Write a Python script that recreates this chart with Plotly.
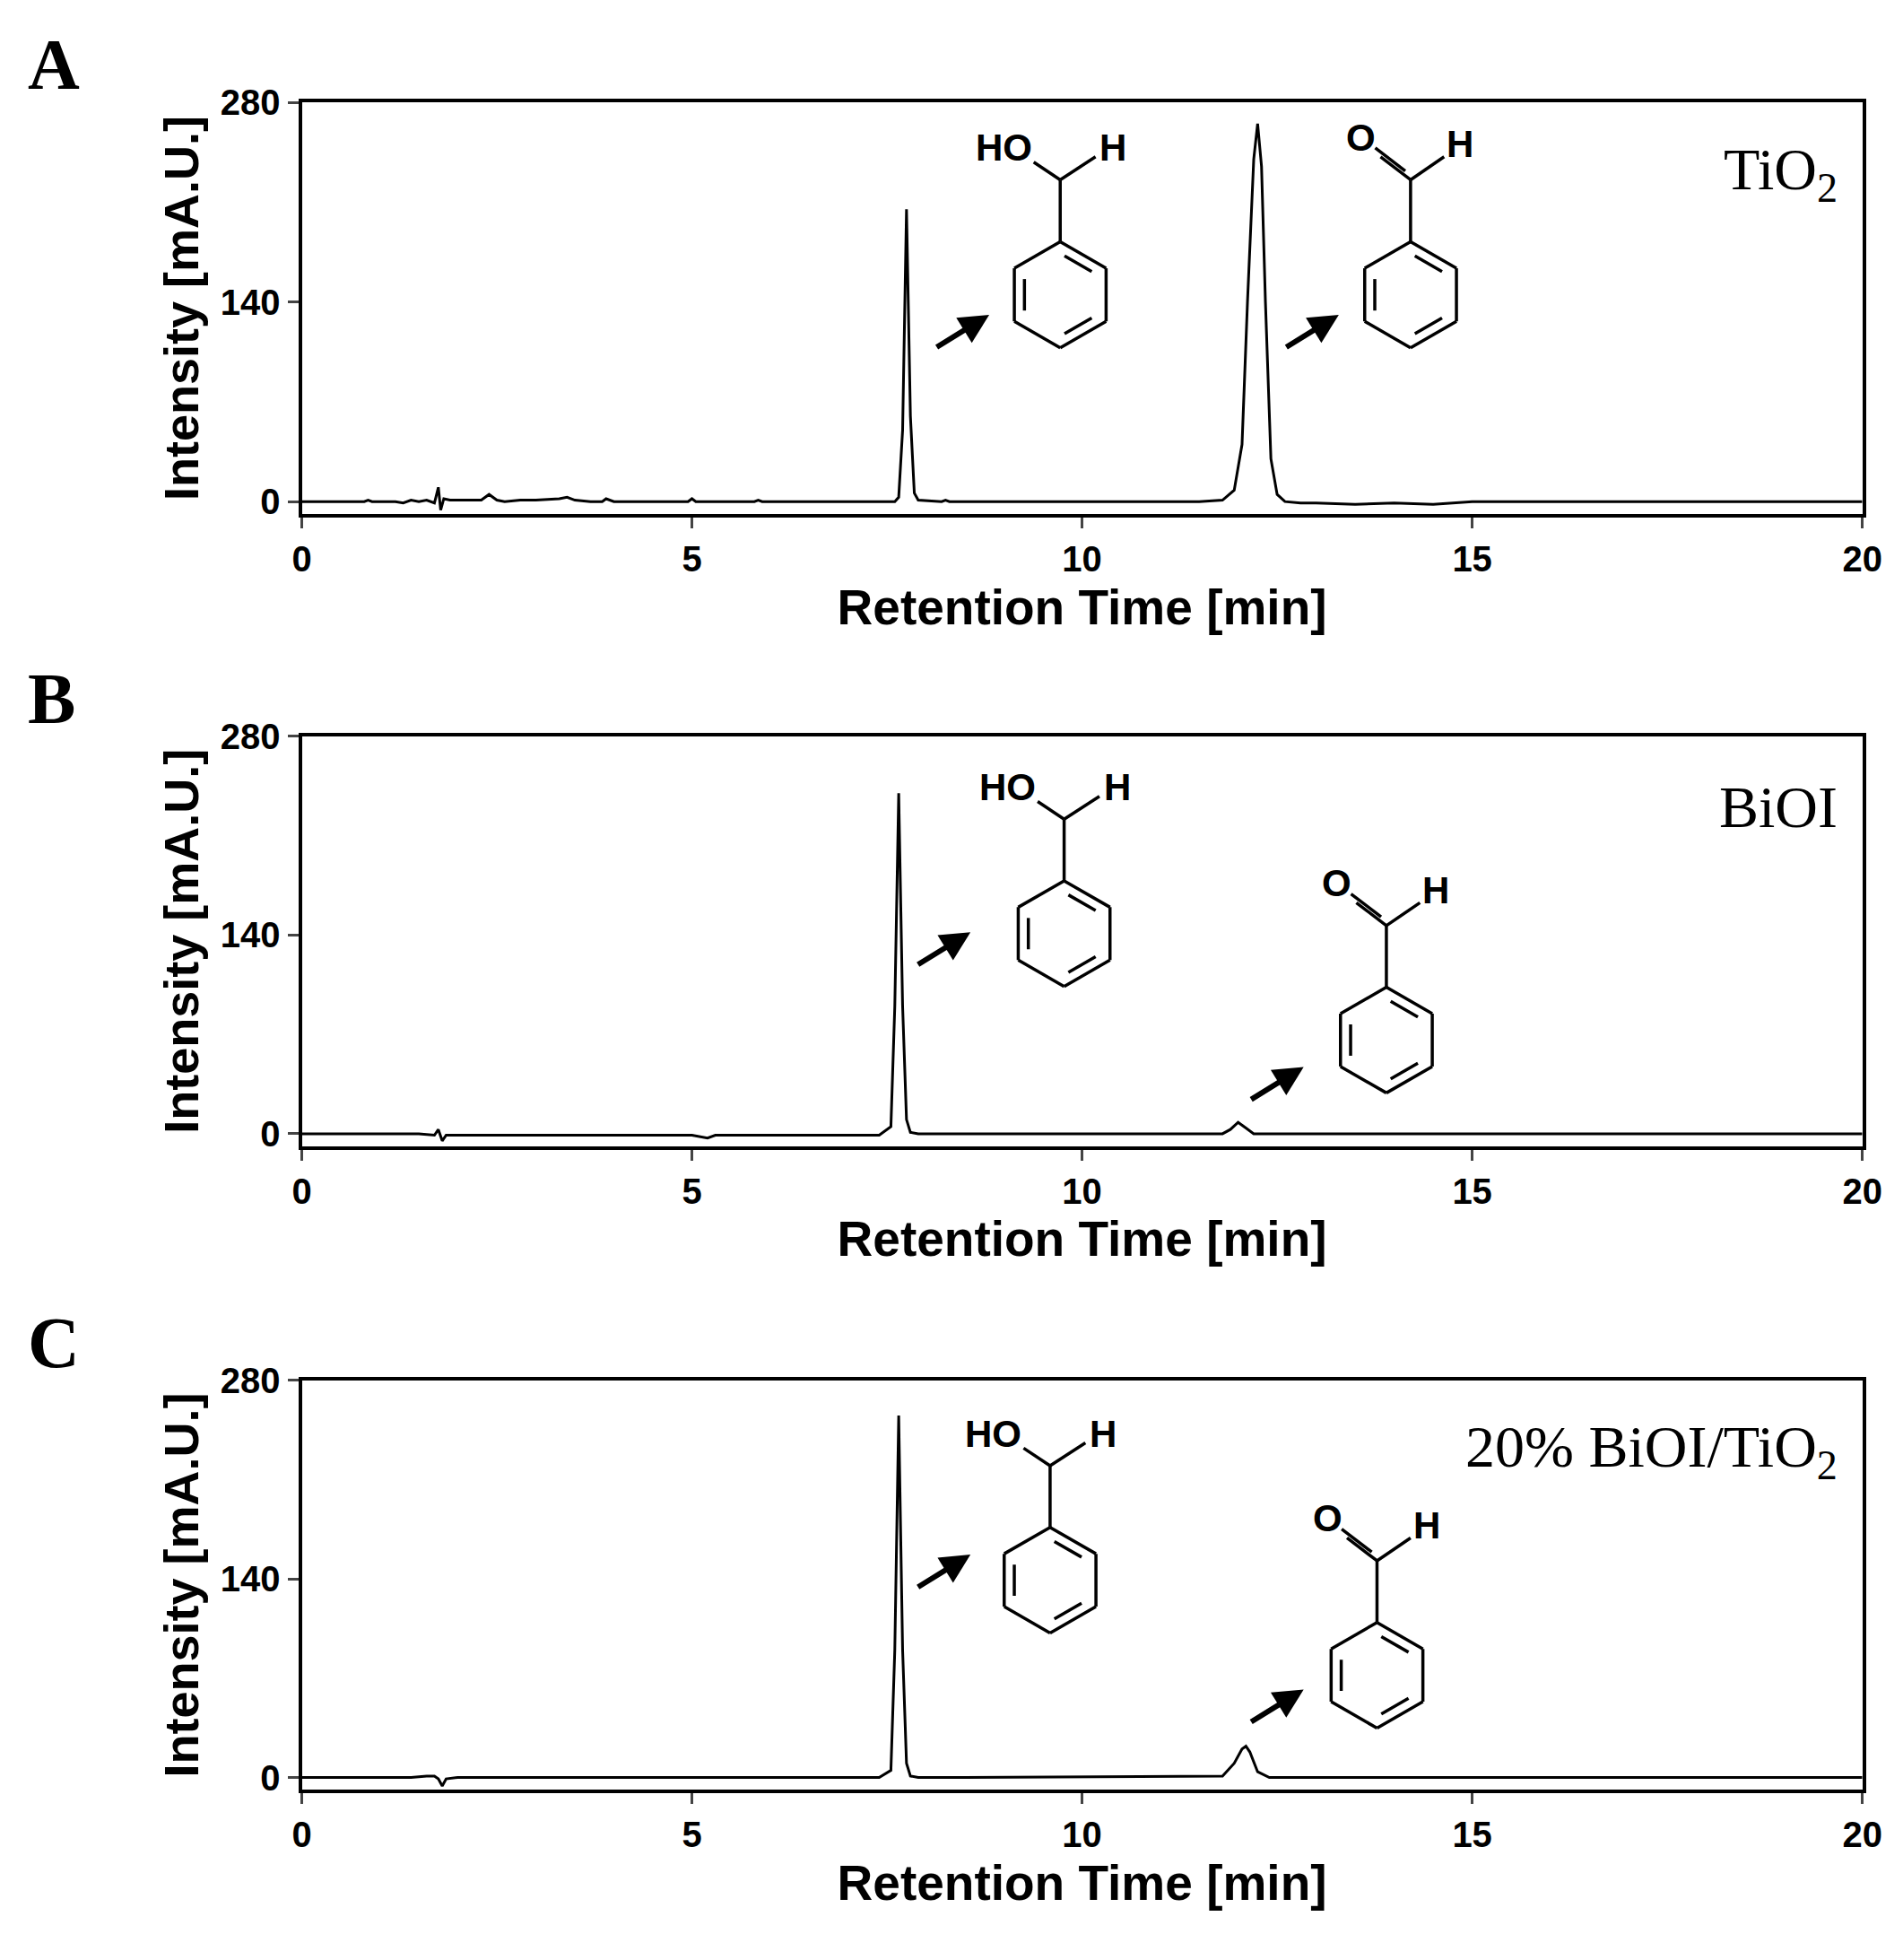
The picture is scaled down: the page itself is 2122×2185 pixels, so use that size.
import math
import plotly.graph_objects as go

# chromatogram traces (retention time in min, intensity in mA.U.)
time_a = [0, 0.8, 0.85, 0.9, 1.2, 1.3, 1.4, 1.5, 1.6, 1.7, 1.75, 1.78, 1.82, 1.9, 2.0, 2.3, 2.4, 2.5, 2.6, 2.8,
          3.0, 3.3, 3.4, 3.5, 3.7, 3.85, 3.9, 4.0, 4.5, 4.95, 5.0, 5.05, 5.5, 5.8, 5.85, 5.9, 7.0, 7.6, 7.65, 7.7,
          7.75, 7.8, 7.85, 7.9, 8.2, 8.25, 8.3, 9.0, 11.5, 11.8, 11.95, 12.05, 12.12, 12.2, 12.25, 12.3, 12.35,
          12.42, 12.5, 12.6, 12.8, 13.0, 13.5, 14.0, 14.5, 15.0, 20]
int_a = [0, 0, 1, 0, 0, -1, 1, 0, 1, -1, 10, -6, 2, 1, 1, 1, 5, 1, 0, 1,
         1, 2, 3, 1, 0, 0, 2, 0, 0, 0, 2, 0, 0, 0, 1, 0, 0, 0, 3, 50,
         205, 60, 6, 1, 0, 1, 0, 0, 0, 1, 8, 40, 140, 240, 265, 235, 140,
         30, 5, 0, -1, -1, -2, -1, -2, 0, 0]

time_b = [0, 1.5, 1.7, 1.75, 1.8, 1.85, 2.0, 3.0, 5.0, 5.2, 5.3, 6.0, 7.4, 7.55, 7.6, 7.65, 7.7, 7.75, 7.8, 7.9,
          8.5, 11.8, 11.9, 12.0, 12.1, 12.2, 12.5, 15.0, 20]
int_b = [0, 0, -1, 3, -5, -1, -1, -1, -1, -3, -1, -1, -1, 5, 90, 240, 90, 10, 1, 0,
         0, 0, 3, 8, 4, 0, 0, 0, 0]

time_c = [0, 1.4, 1.6, 1.7, 1.75, 1.8, 1.85, 2.0, 4.0, 7.4, 7.55, 7.6, 7.65, 7.7, 7.75, 7.8, 7.9,
          8.5, 11.8, 11.95, 12.05, 12.1, 12.15, 12.25, 12.4, 15.0, 20]
int_c = [0, 0, 1, 1, -1, -6, -1, 0, 0, 0, 5, 90, 255, 90, 10, 1, 0,
         0, 1, 10, 20, 22, 18, 4, 0, 0, 0]

panel_letters = ["A", "B", "C"]
panel_labels = ["TiO<sub>2</sub>", "BiOI", "20% BiOI/TiO<sub>2</sub>"]
y_ticks = [0, 140, 280]
x_ticks = [0, 5, 10, 15, 20]

# molecule placement (center of ring in data units) per panel: alcohol, aldehyde
alcohol_pos = [(9.72, 145), (9.77, 141), (9.59, 139)]
aldehyde_pos = [(14.21, 145), (13.90, 66), (13.78, 72)]
arrow_heads = [[(8.81, 131), (13.29, 131)], [(8.57, 142), (12.84, 47)], [(8.57, 157), (12.84, 62)]]

W, H = 2122, 2185
ydom = [(0.748, 0.961), (0.421, 0.633), (0.088, 0.300)]
xdom = (0.152, 0.985)
YR = [-8.75, 280]
PX_X = (xdom[1] - xdom[0]) * W / 20.0
PX_Y = (ydom[0][1] - ydom[0][0]) * H / (YR[1] - YR[0])

fig = go.Figure()
serif = "Liberation Serif"
sans = "Liberation Sans"
shapes = []
annotations = []


def line(ax, p, q, w=3.5):
    shapes.append(dict(type="line", xref="x" + ax, yref="y" + ax,
                       x0=p[0], y0=p[1], x1=q[0], y1=q[1],
                       line=dict(color="black", width=w)))


def label(ax, pos, text):
    annotations.append(dict(xref="x" + ax, yref="y" + ax, x=pos[0], y=pos[1], text=text, showarrow=False,
                            font=dict(family=sans, size=42, color="black", weight="bold")))


def molecule(ax, cx, cy, aldehyde):
    r = 60
    def to_data(px, py):
        return (cx + px / PX_X, cy + py / PX_Y)
    verts = [(r * math.cos(math.radians(90 + 60 * k)), r * math.sin(math.radians(90 + 60 * k))) for k in range(6)]
    for k in range(6):
        line(ax, to_data(*verts[k]), to_data(*verts[(k + 1) % 6]))
    # inner double bonds: top-right, left, bottom-right edges
    for a, b in [(5, 0), (1, 2), (3, 4)]:
        pa, pb = verts[a], verts[b]
        ia = (pa[0] * 0.78, pa[1] * 0.78)
        ib = (pb[0] * 0.78, pb[1] * 0.78)
        sa = (ia[0] + (ib[0] - ia[0]) * 0.12, ia[1] + (ib[1] - ia[1]) * 0.12)
        sb = (ib[0] + (ia[0] - ib[0]) * 0.12, ib[1] + (ia[1] - ib[1]) * 0.12)
        line(ax, to_data(*sa), to_data(*sb))
    top = verts[0]
    c = (0, r + 70)
    line(ax, to_data(*top), to_data(*c))
    if aldehyde:
        o = (-34, c[1] + 26)
        line(ax, to_data(*c), to_data(*o))
        line(ax, to_data(c[0] - 6, c[1] + 10), to_data(o[0] - 6, o[1] + 10))
        hx = (38, c[1] + 26)
        line(ax, to_data(*c), to_data(*hx))
        label(ax, to_data(-56, c[1] + 48), "O")
        label(ax, to_data(56, c[1] + 40), "H")
    else:
        o = (-30, c[1] + 20)
        line(ax, to_data(*c), to_data(*o))
        hx = (40, c[1] + 26)
        line(ax, to_data(*c), to_data(*hx))
        label(ax, to_data(-64, c[1] + 36), "HO")
        label(ax, to_data(60, c[1] + 36), "H")


series = [(time_a, int_a), (time_b, int_b), (time_c, int_c)]
for i, (t, v) in enumerate(series):
    ax = "" if i == 0 else str(i + 1)
    fig.add_trace(go.Scatter(x=t, y=v, mode="lines", line=dict(color="black", width=3),
                             xaxis="x" + ax, yaxis="y" + ax, showlegend=False))
    axis_common = dict(showline=True, linewidth=4, linecolor="black", mirror=True, showgrid=False,
                       zeroline=False, ticks="outside", ticklen=12, tickwidth=3,
                       tickfont=dict(family=sans, size=40, color="black", weight="bold"))
    fig.update_layout(**{
        "xaxis" + ax: dict(axis_common, domain=list(xdom), range=[0, 20], tickvals=x_ticks, anchor="y" + ax,
                           title=dict(text="<b>Retention Time [min]</b>", font=dict(family=sans, size=55, color="black"),
                                      standoff=14)),
        "yaxis" + ax: dict(axis_common, domain=list(ydom[i]), range=YR, tickvals=y_ticks, anchor="x" + ax,
                           title=dict(text="<b>Intensity [mA.U.]</b>", font=dict(family=sans, size=54, color="black"),
                                      standoff=8)),
    })
    annotations.append(dict(xref="paper", yref="paper", x=0.005, y=ydom[i][1] - 0.002, xanchor="left", yanchor="bottom",
                            text="<b>" + panel_letters[i] + "</b>", showarrow=False,
                            font=dict(family=serif, size=80, color="black")))
    annotations.append(dict(xref="x" + ax, yref="y" + ax, x=19.7, y=230, xanchor="right", yanchor="middle",
                            text=panel_labels[i], showarrow=False,
                            font=dict(family=serif, size=66, color="black")))
    molecule(ax, alcohol_pos[i][0], alcohol_pos[i][1], False)
    molecule(ax, aldehyde_pos[i][0], aldehyde_pos[i][1], True)
    for hx, hy in arrow_heads[i]:
        annotations.append(dict(xref="x" + ax, yref="y" + ax, x=hx, y=hy, ax=-60, ay=37, text="",
                                showarrow=True, arrowhead=2, arrowsize=1.1, arrowwidth=6, arrowcolor="black"))

fig.update_layout(width=W, height=H, margin=dict(l=0, r=0, t=0, b=0), plot_bgcolor="white",
                  paper_bgcolor="white", shapes=shapes, annotations=annotations)
fig.write_html("out.html")
